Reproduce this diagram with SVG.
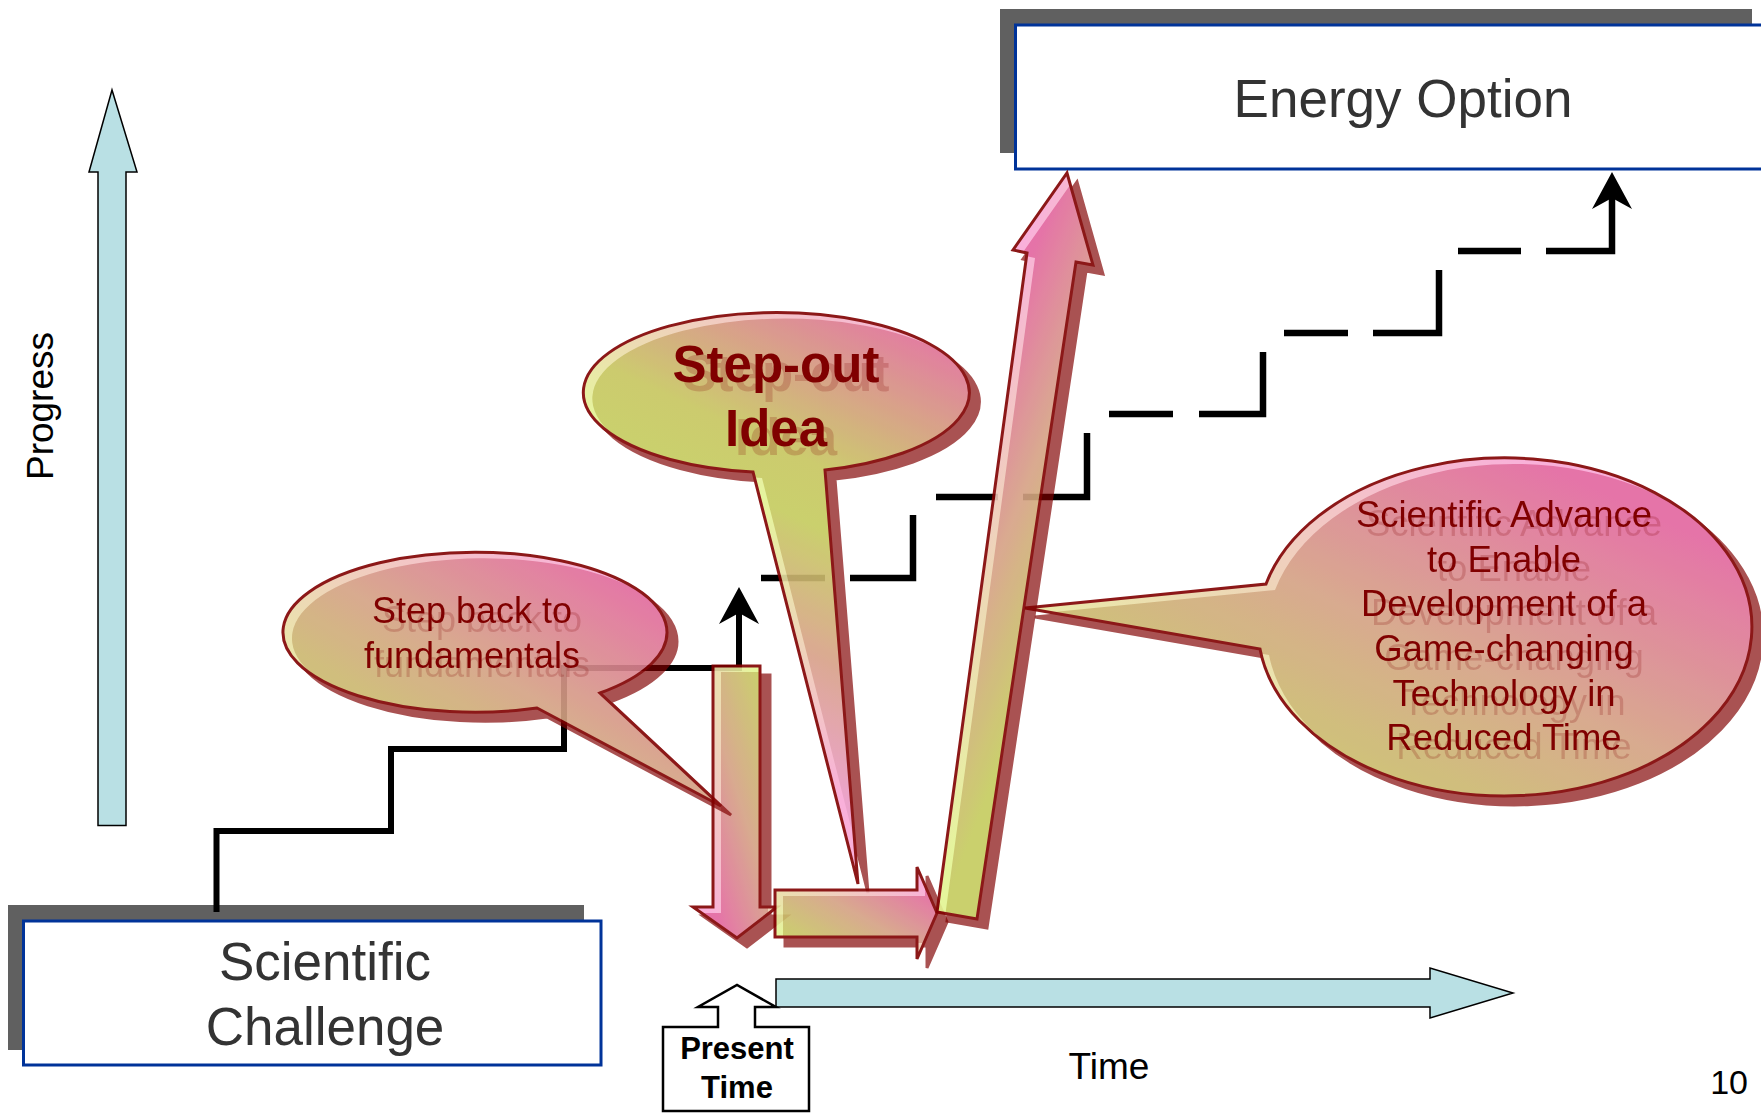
<svg xmlns="http://www.w3.org/2000/svg" width="1761" height="1113" viewBox="0 0 1761 1113">
<style>
.lbl{font-family:"Liberation Sans",Arial,sans-serif}
.box{fill:#fff;stroke:#003399;stroke-width:3}
.boxsh{fill:#606060}
.boxtxt{font-size:53px;fill:#333;text-anchor:middle}
.axis{fill:#b9e0e4;stroke:#000;stroke-width:1.5}
.ol{fill:none;stroke:#800000;stroke-width:3;stroke-linejoin:miter}
.ct{fill:#800000;text-anchor:middle}
.stair{fill:none;stroke:#000;stroke-width:6;stroke-linejoin:miter}
.dash{fill:none;stroke:#000;stroke-width:6.5;stroke-linejoin:miter}
</style>
<defs>
<linearGradient id="gC" x1="0" y1="1" x2="1" y2="0">
<stop offset="0.15" stop-color="#c5cb5e"/>
<stop offset="0.5" stop-color="#d4a283"/>
<stop offset="0.85" stop-color="#e3669f"/>
</linearGradient>
<linearGradient id="hC" x1="0" y1="1" x2="1" y2="0">
<stop offset="0.15" stop-color="#e3f592"/>
<stop offset="0.85" stop-color="#f9a8d6"/>
</linearGradient>
<linearGradient id="gD" href="#gC" x1="1" y1="0" x2="0" y2="1"/>
<linearGradient id="hD" href="#hC" x1="1" y1="0" x2="0" y2="1"/>
<linearGradient id="gS" gradientUnits="userSpaceOnUse" x1="760" y1="760" x2="960" y2="330">
<stop offset="0" stop-color="#ea9ac6"/>
<stop offset="0.25" stop-color="#d8a088"/>
<stop offset="0.5" stop-color="#c5cb5e"/>
<stop offset="0.62" stop-color="#c7c65f"/>
<stop offset="1" stop-color="#e3649f"/>
</linearGradient>
<linearGradient id="hS" href="#gS">
<stop offset="0" stop-color="#f9a8d6"/>
<stop offset="0.5" stop-color="#e3f592"/>
<stop offset="1" stop-color="#f9a8d6"/>
</linearGradient>
<linearGradient id="gB" gradientUnits="userSpaceOnUse" x1="1013" y1="250" x2="1176" y2="314">
<stop offset="0.05" stop-color="#e3649f"/>
<stop offset="0.5" stop-color="#d6a085"/>
<stop offset="0.95" stop-color="#c5cb5e"/>
</linearGradient>
<linearGradient id="hB" href="#gB">
<stop offset="0.05" stop-color="#f9a8d6"/>
<stop offset="0.95" stop-color="#e3f592"/>
</linearGradient>
<path id="sb" d="M600 693 A192 80 0 1 0 537 708 L721 806 Z"/>
<path id="so" d="M825 470 A193 80 0 1 0 753 472 L858 884 Z"/>
<path id="sa" d="M1266 584 A247 169 0 1 1 1260 649 L1025 608 Z"/>
<path id="da" d="M713 666 H760 V907 H777 L737 938 L693 907 H713 Z"/>
<path id="ra" d="M775 890 H917 V867 L937 913 L917 959 V937 H775 Z"/>
<path id="ba" d="M937 912 L1027 253 L1013 250 L1067 173 L1093 265 L1076 262 L977 919 Z"/>
<clipPath id="c-sb"><use href="#sb"/></clipPath>
<clipPath id="c-so"><use href="#so"/></clipPath>
<clipPath id="c-sa"><use href="#sa"/></clipPath>
<clipPath id="c-da"><use href="#da"/></clipPath>
<clipPath id="c-ra"><use href="#ra"/></clipPath>
<clipPath id="c-ba"><use href="#ba"/></clipPath>
<filter id="sh" x="-20%" y="-20%" width="150%" height="150%" color-interpolation-filters="sRGB">
<feFlood flood-color="#800000" flood-opacity="0.75"/>
<feComposite in2="SourceAlpha" operator="in"/>
<feOffset dx="10" dy="9" result="s"/>
<feMerge><feMergeNode in="s"/><feMergeNode in="SourceGraphic"/></feMerge>
</filter>
<filter id="tsh" x="-10%" y="-20%" width="130%" height="150%" color-interpolation-filters="sRGB">
<feFlood flood-color="#800000" flood-opacity="0.2"/>
<feComposite in2="SourceAlpha" operator="in"/>
<feOffset dx="10" dy="9" result="s"/>
<feMerge><feMergeNode in="s"/><feMergeNode in="SourceGraphic"/></feMerge>
</filter>
<marker id="ah" markerUnits="userSpaceOnUse" viewBox="-30 -22 42 44" markerWidth="42" markerHeight="44" refX="0" refY="0" orient="auto">
<path d="M10 0 L-27 -20 L-16 0 L-27 20 Z" fill="#000"/>
</marker>
</defs>
<rect width="1761" height="1113" fill="#fff"/>

<g id="axis-progress">
<path class="axis" d="M98 825.5 V172 H89 L112 90 L137 172 H126 V825.5 Z"/>
<text class="lbl" font-size="37" text-anchor="middle" transform="translate(53,406) rotate(-90)">Progress</text>
</g>
<g id="axis-time">
<path class="axis" d="M776 979 H1430 V968 L1513 993 L1430 1018 V1007 H776 Z"/>
<text class="lbl" x="1109" y="1079" font-size="37" text-anchor="middle">Time</text>
</g>
<text class="lbl" x="1748" y="1094" font-size="34" text-anchor="end">10</text>

<g id="n-challenge">
<rect class="boxsh" x="8" y="905" width="576" height="145"/>
<rect class="box" x="23.5" y="921" width="577.5" height="144"/>
<text class="lbl boxtxt" x="325" y="980">Scientific</text>
<text class="lbl boxtxt" x="325" y="1045">Challenge</text>
</g>
<g id="n-energy">
<rect class="boxsh" x="1000" y="9" width="752" height="144"/>
<rect class="box" x="1015.5" y="25" width="760" height="144"/>
<text class="lbl boxtxt" x="1403" y="117">Energy Option</text>
</g>

<g id="connectors">
<path class="stair" d="M216.5 912 V831 H391 V749 H564 V668 H739 V597" marker-end="url(#ah)"/>
<path class="dash" d="M761 578 H825 M850 578 H913 V515 M936 497 H998 M1023 497 H1087 V433 M1109 414 H1173 M1199 414 H1263 V352 M1284 333 H1348 M1373 333 H1439 V270 M1458 251 H1521 M1546 251 H1612 V182" marker-end="url(#ah)"/>
</g>

<g id="arrow-down">
<g filter="url(#sh)" opacity="0.9">
<use href="#da" fill="url(#hD)"/>
<g clip-path="url(#c-da)"><use href="#da" fill="url(#gD)" transform="translate(8,6)"/></g>
<use href="#da" class="ol"/>
</g>
</g>

<g id="n-stepback">
<g filter="url(#sh)" opacity="0.9">
<use href="#sb" fill="url(#hC)"/>
<g clip-path="url(#c-sb)"><use href="#sb" fill="url(#gC)" transform="translate(9,6)"/></g>
<use href="#sb" class="ol"/>
</g>
<g class="lbl ct" font-size="36" filter="url(#tsh)">
<text x="472" y="623">Step back to</text>
<text x="472" y="668">fundamentals</text>
</g>
</g>

<g id="n-stepout">
<g filter="url(#sh)" opacity="0.9">
<use href="#so" fill="url(#hS)"/>
<g clip-path="url(#c-so)"><use href="#so" fill="url(#gS)" transform="translate(9,6)"/></g>
<use href="#so" class="ol"/>
</g>
<g class="lbl ct" font-size="51" font-weight="bold" filter="url(#tsh)">
<text x="776" y="382">Step-out</text>
<text x="776" y="446">Idea</text>
</g>
</g>

<g id="arrow-right">
<g filter="url(#sh)" opacity="0.9">
<use href="#ra" fill="url(#hC)"/>
<g clip-path="url(#c-ra)"><use href="#ra" fill="url(#gC)" transform="translate(8,6)"/></g>
<use href="#ra" class="ol"/>
</g>
</g>

<g id="arrow-up">
<g filter="url(#sh)" opacity="0.9">
<use href="#ba" fill="url(#hB)"/>
<g clip-path="url(#c-ba)"><use href="#ba" fill="url(#gB)" transform="translate(8,5)"/></g>
<use href="#ba" class="ol"/>
</g>
</g>

<g id="n-advance">
<g filter="url(#sh)" opacity="0.9">
<use href="#sa" fill="url(#hC)"/>
<g clip-path="url(#c-sa)"><use href="#sa" fill="url(#gC)" transform="translate(9,6)"/></g>
<use href="#sa" class="ol"/>
</g>
<g class="lbl ct" font-size="36.5" filter="url(#tsh)">
<text x="1504" y="527">Scientific Advance</text>
<text x="1504" y="572">to Enable</text>
<text x="1504" y="616">Development of a</text>
<text x="1504" y="661">Game-changing</text>
<text x="1504" y="706">Technology in</text>
<text x="1504" y="750">Reduced Time</text>
</g>
</g>

<g id="n-present">
<path d="M663 1027 H718 V1007 H698 L737 985 L776 1007 H755 V1027 H809 V1111 H663 Z" fill="#fff" stroke="#000" stroke-width="2.5"/>
<text class="lbl" x="737" y="1059" font-size="31" font-weight="bold" text-anchor="middle">Present</text>
<text class="lbl" x="737" y="1098" font-size="31" font-weight="bold" text-anchor="middle">Time</text>
</g>
</svg>
